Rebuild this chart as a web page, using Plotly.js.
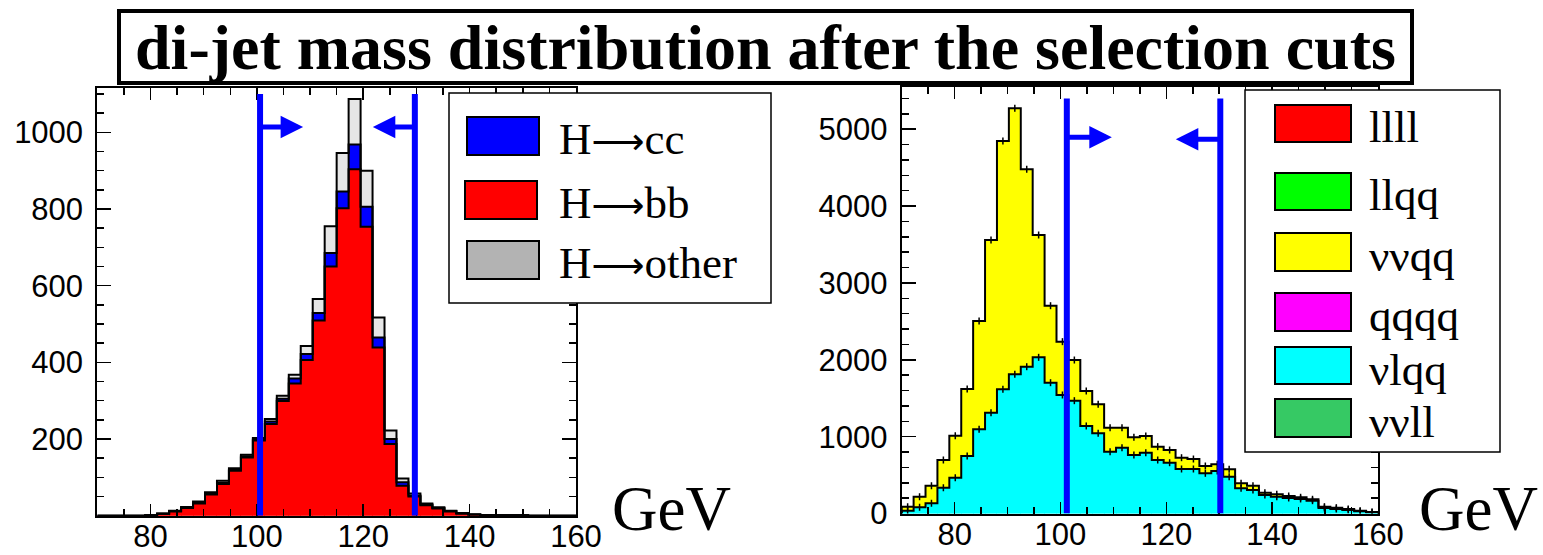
<!DOCTYPE html>
<html><head><meta charset="utf-8">
<script src="https://cdn.plot.ly/plotly-3.0.1.min.js"></script>
<style>html,body{margin:0;padding:0;background:#fff}</style>
</head><body><div id="chart" style="width:1543px;height:555px"></div>
<script>
// ---- data ----
const binCenters = [71.125, 73.375, 75.625, 77.875, 80.125, 82.375, 84.625, 86.875, 89.125, 91.375,
  93.625, 95.875, 98.125, 100.375, 102.625, 104.875, 107.125, 109.375, 111.625, 113.875,
  116.125, 118.375, 120.625, 122.875, 125.125, 127.375, 129.625, 131.875, 134.125, 136.375,
  138.625, 140.875, 143.125, 145.375, 147.625, 149.875, 152.125, 154.375, 156.625, 158.875];

// left panel: Higgs signal
const hbb    = [0,0,0,0,1,5,11,20,32,55, 83,117,152,196,239,299,345,406,509,650,
                802,904,754,439,187,78,50,27,19,11, 6,3,2,1,1,1,0,0,0,0];
const hcc    = [0,0,0,0,0,0,1,1,2,2, 3,3,3,3,7,6,13,16,20,35,
                44,64,52,26,13,9,3,2,1,1, 0,0,0,0,0,0,0,0,0,0];
const hother = [0,0,0,0,0,1,1,2,3,4, 5,4,4,4,6,8,10,21,36,70,
                100,119,94,52,22,10,5,3,2,1, 1,0,0,0,0,0,0,0,0,0];

// right panel: backgrounds
const bgVlqq = [37,80,132,336,466,748,1095,1312,1616,1811, 1910,2032,1702,1542,1468,1139,1043,804,856,761,
                791,696,661,579,579,523,553,479,328,306, 241,219,202,189,167,72,59,46,28,15];
const bgVvqq = [52,139,230,360,547,872,1410,2247,3231,3461, 2569,1592,1002,694,529,455,378,313,261,230,
                217,174,165,147,130,95,87,96,65,56, 30,31,26,22,18,17,17,13,9,5];
const bgLlll = [0,0,0,0,0,0,0,0,0,0, 0,0,0,0,0,0,0,0,0,0, 0,0,0,0,0,0,0,0,0,0, 0,0,0,0,0,0,0,0,0,0];
const bgLlqq = [0,0,0,0,0,0,0,0,0,0, 0,0,0,0,0,0,0,0,0,0, 0,0,0,0,0,0,0,0,0,0, 0,0,0,0,0,0,0,0,0,0];
const bgQqqq = [0,0,0,0,0,0,0,0,0,0, 0,0,0,0,0,0,0,0,0,0, 0,0,0,0,0,0,0,0,0,0, 0,0,0,0,0,0,0,0,0,0];
const bgVvll = [0,0,0,0,0,0,0,0,0,0, 0,0,0,0,0,0,0,0,0,0, 0,0,0,0,0,0,0,0,0,0, 0,0,0,0,0,0,0,0,0,0];

const xTicks = [80, 100, 120, 140, 160];
const yTicksLeft = [200, 400, 600, 800, 1000];
const yTicksRight = [0, 1000, 2000, 3000, 4000, 5000];
const cutsLeft = [100.6, 129.7];
const cutsRight = [101.2, 130.2];

const legendLeftNames = ['H→cc', 'H→bb', 'H→other'];
const legendRightNames = ['llll', 'llqq', 'ννqq', 'qqqq', 'νlqq', 'ννll'];
const titleText = 'di-jet mass distribution after the selection cuts';
const unitText = 'GeV';

// ---- helpers ----
const W = 1543, H = 555;
const px = x => x / W;
const py = y => 1 - y / H;
const bw = binCenters[1] - binCenters[0];
const edges = binCenters.map(c => c - bw / 2).concat([binCenters[binCenters.length - 1] + bw / 2]);
const addArr = (a, b) => a.map((v, i) => v + b[i]);
const serif = 'Liberation Serif, Times New Roman, serif';

function barTrace(y, color, xa, ya, name) {
  return {type: 'bar', x: binCenters, y: y, width: bw, name: name,
    marker: {color: color, line: {color: color, width: 0.5}},
    xaxis: xa, yaxis: ya, showlegend: false, hoverinfo: 'skip'};
}
function stepTrace(cum, xa, ya) {
  const xs = [edges[0]].concat(edges.slice(0, 40)).concat([edges[40]]);
  const ys = [0].concat(cum).concat([0]);
  return {type: 'scatter', mode: 'lines', x: xs, y: ys, line: {shape: 'hv', color: '#000', width: 2},
    xaxis: xa, yaxis: ya, showlegend: false, hoverinfo: 'skip'};
}
// legend label: render the arrow as a long arrow glyph
function legendLabel(s) {
  return s.replace('→', '<span style="font-family:DejaVu Sans;font-size:37px">⟶</span>');
}

const cumL1 = hbb;
const cumL2 = addArr(cumL1, hcc);
const cumL3 = addArr(cumL2, hother);
const cumR1 = bgVlqq;
const cumR2 = addArr(cumR1, bgVvqq);

const data = [
  barTrace(hbb, '#ff0000', 'x', 'y', 'H→bb'),
  barTrace(hcc, '#0000ff', 'x', 'y', 'H→cc'),
  barTrace(hother, '#e6e6e6', 'x', 'y', 'H→other'),
  barTrace(bgVlqq, '#00ffff', 'x2', 'y2', 'νlqq'),
  barTrace(bgVvqq, '#ffff00', 'x2', 'y2', 'ννqq'),
  barTrace(bgLlll, '#ff0000', 'x2', 'y2', 'llll'),
  barTrace(bgLlqq, '#00ff00', 'x2', 'y2', 'llqq'),
  barTrace(bgQqqq, '#ff00ff', 'x2', 'y2', 'qqqq'),
  barTrace(bgVvll, '#36c964', 'x2', 'y2', 'ννll'),
  stepTrace(cumL1, 'x', 'y'),
  stepTrace(cumL2, 'x', 'y'),
  stepTrace(cumL3, 'x', 'y'),
  stepTrace(cumR1, 'x2', 'y2'),
  stepTrace(cumR2, 'x2', 'y2'),
  {type: 'scatter', mode: 'markers', x: binCenters.concat(binCenters), y: cumR1.concat(cumR2),
   marker: {symbol: 'line-ns-open', size: 5, color: '#000', line: {color: '#000', width: 1.5}},
   xaxis: 'x2', yaxis: 'y2', showlegend: false, hoverinfo: 'skip'}
];

const tickFont = {family: 'Liberation Sans, Arial, sans-serif', size: 31, color: '#000'};
function xAxis(domain, anchor) {
  return {domain: domain, anchor: anchor, range: [70, 160], tickvals: xTicks, ticktext: xTicks.map(String),
    ticks: 'inside', ticklen: 12, tickwidth: 1.5, tickcolor: '#000',
    minor: {ticks: 'inside', ticklen: 7, dtick: 5, tick0: 0, tickwidth: 1.5, tickcolor: '#000', showgrid: false},
    showline: true, linewidth: 2, linecolor: '#000', mirror: 'allticks',
    showgrid: false, zeroline: false, tickfont: tickFont, ticklabelstandoff: -8, fixedrange: true};
}
function yAxis(domain, anchor, range, tickvals, minorDtick) {
  return {domain: domain, anchor: anchor, range: range, tickvals: tickvals, ticktext: tickvals.map(String),
    ticks: 'inside', ticklen: 14, tickwidth: 1.5, tickcolor: '#000',
    minor: {ticks: 'inside', ticklen: 7, dtick: minorDtick, tick0: 0, tickwidth: 1.5, tickcolor: '#000', showgrid: false},
    showline: true, linewidth: 2, linecolor: '#000', mirror: 'allticks',
    showgrid: false, zeroline: false, tickfont: tickFont, ticklabelstandoff: 6, fixedrange: true};
}

const shapes = [];
const annotations = [];

// cut lines
cutsLeft.forEach(c => shapes.push({type: 'line', xref: 'x', yref: 'y', x0: c, x1: c, y0: 0, y1: 1100,
  line: {color: '#0000ff', width: 6}, layer: 'above'}));
cutsRight.forEach(c => shapes.push({type: 'line', xref: 'x2', yref: 'y2', x0: c, x1: c, y0: 0, y1: 5400,
  line: {color: '#0000ff', width: 6}, layer: 'above'}));

// arrows
function arrow(xa, ya, x0, x1, y) {
  return {xref: xa, yref: ya, axref: xa, ayref: ya, x: x1, y: y, ax: x0, ay: y, text: '',
    showarrow: true, arrowhead: 2, arrowsize: 0.9, arrowwidth: 5, arrowcolor: '#0000ff'};
}
annotations.push(arrow('x', 'y', cutsLeft[0], 108.7, 1014));
annotations.push(arrow('x', 'y', cutsLeft[1], 121.8, 1014));
annotations.push(arrow('x2', 'y2', cutsRight[0], 109.7, 4895));
annotations.push(arrow('x2', 'y2', cutsRight[1], 121.8, 4870));

// title box
shapes.push({type: 'rect', xref: 'paper', yref: 'paper', x0: px(119), x1: px(1412), y0: py(83), y1: py(11),
  line: {color: '#000', width: 4}, fillcolor: '#fff', layer: 'above'});
annotations.push({xref: 'paper', yref: 'paper', x: px(765), y: py(47), xanchor: 'center', yanchor: 'middle',
  text: '<b>' + titleText + '</b>', showarrow: false,
  font: {family: serif, size: 64, color: '#000'}});

// left legend
shapes.push({type: 'rect', xref: 'paper', yref: 'paper', x0: px(449), x1: px(771), y0: py(303), y1: py(93),
  line: {color: '#000', width: 1.5}, fillcolor: '#fff', layer: 'above'});
const leftSw = [[467, 117, 539, 155, '#0000ff'], [465, 181, 537, 219, '#ff0000'], [467, 241, 539, 279, '#b3b3b3']];
leftSw.forEach((s, i) => {
  shapes.push({type: 'rect', xref: 'paper', yref: 'paper', x0: px(s[0]), x1: px(s[2]), y0: py(s[3]), y1: py(s[1]),
    line: {color: '#000', width: 2}, fillcolor: s[4], layer: 'above'});
  annotations.push({xref: 'paper', yref: 'paper', x: px(557), y: py((s[1] + s[3]) / 2 + 3), xanchor: 'left', yanchor: 'middle',
    text: legendLabel(legendLeftNames[i]), showarrow: false,
    font: {family: serif, size: 45, color: '#000'}});
});

// right legend
shapes.push({type: 'rect', xref: 'paper', yref: 'paper', x0: px(1245), x1: px(1500), y0: py(452), y1: py(90),
  line: {color: '#000', width: 1.5}, fillcolor: '#fff', layer: 'above'});
const rightRows = [[105, 142], [173, 210], [233, 271], [293, 331], [347, 384], [399, 437]];
const rightColors = ['#ff0000', '#00ff00', '#ffff00', '#ff00ff', '#00ffff', '#36c964'];
rightRows.forEach((r, i) => {
  shapes.push({type: 'rect', xref: 'paper', yref: 'paper', x0: px(1275), x1: px(1351), y0: py(r[1]), y1: py(r[0]),
    line: {color: '#000', width: 2}, fillcolor: rightColors[i], layer: 'above'});
  annotations.push({xref: 'paper', yref: 'paper', x: px(1367), y: py((r[0] + r[1]) / 2 + 4), xanchor: 'left', yanchor: 'middle',
    text: legendRightNames[i], showarrow: false,
    font: {family: serif, size: 45, color: '#000'}});
});

// GeV labels
[[671, 509], [1478, 509]].forEach(p => annotations.push({xref: 'paper', yref: 'paper', x: px(p[0]), y: py(p[1]),
  xanchor: 'center', yanchor: 'middle', text: unitText, showarrow: false,
  font: {family: serif, size: 63, color: '#000'}}));

const layout = {
  width: W, height: H, margin: {l: 0, r: 0, t: 0, b: 0},
  paper_bgcolor: '#fff', plot_bgcolor: '#fff',
  barmode: 'stack', bargap: 0, showlegend: false,
  xaxis: xAxis([97.3 / W, 576 / W], 'y'),
  yaxis: yAxis([1 - 515.7 / H, 1 - 87.5 / H], 'x', [0, 1117], yTicksLeft, 50),
  xaxis2: xAxis([901.7 / W, 1378 / W], 'y2'),
  yaxis2: yAxis([1 - 513.5 / H, 1 - 86.5 / H], 'x2', [0, 5556], yTicksRight, 200),
  shapes: shapes, annotations: annotations
};

Plotly.newPlot('chart', data, layout, {staticPlot: true, displayModeBar: false});
</script>
</body></html>
